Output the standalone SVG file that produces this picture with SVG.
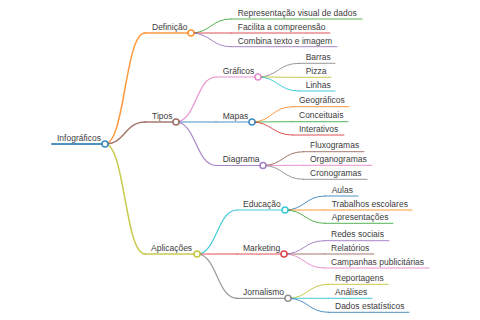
<svg xmlns="http://www.w3.org/2000/svg" width="480" height="320" viewBox="0 0 480 320">
<style>
text{font-family:"Liberation Sans",Arial,sans-serif;font-size:8.5px;fill:#3c3c3c}
.l{fill:none;stroke-linecap:round;stroke-opacity:0.8}
.d0{stroke-width:2}
.d1{stroke-width:1.5}
.d2{stroke-width:1.2}
.d3{stroke-width:1}
circle{fill:#fff;stroke-width:1.5;stroke-opacity:0.85}
</style>
<rect width="480" height="320" fill="#fff"/>
<g id="connectors" class="l">
<path class="d1" stroke="#ff7f0e" d="M105 144C125 144 125 33 145 33"/>
<path class="d1" stroke="#8c564b" d="M105 144C125 144 125 122 145 122"/>
<path class="d1" stroke="#bcbd22" d="M105 144C125 144 125 254 145 254"/>
<path class="d3" stroke="#2ca02c" d="M191 33C211 33 211 19 231 19"/>
<path class="d3" stroke="#d62728" d="M191 33C211 33 211 33 231 33"/>
<path class="d3" stroke="#9467bd" d="M191 33C211 33 211 46.7 231 46.7"/>
<path class="d2" stroke="#e377c2" d="M176 122C196 122 196 77 216 77"/>
<path class="d2" stroke="#1f77b4" d="M176 122C196 122 196 122 216 122"/>
<path class="d2" stroke="#9467bd" d="M176 122C196 122 196 165.5 216 165.5"/>
<path class="d3" stroke="#7f7f7f" d="M258 77C278 77 278 63.3 299 63.3"/>
<path class="d3" stroke="#bcbd22" d="M258 77C278 77 278 77.3 299 77.3"/>
<path class="d3" stroke="#17becf" d="M258 77C278 77 278 91 299 91"/>
<path class="d3" stroke="#ff7f0e" d="M252 122C272 122 272 106.7 292.5 106.7"/>
<path class="d3" stroke="#2ca02c" d="M252 122C272 122 272 121.7 292.5 121.7"/>
<path class="d3" stroke="#d62728" d="M252 122C272 122 272 135 292.5 135"/>
<path class="d3" stroke="#8c564b" d="M263 165.5C283 165.5 283 151.7 303.5 151.7"/>
<path class="d3" stroke="#e377c2" d="M263 165.5C283 165.5 283 165.3 303.5 165.3"/>
<path class="d3" stroke="#7f7f7f" d="M263 165.5C283 165.5 283 179.3 303.5 179.3"/>
<path class="d2" stroke="#17becf" d="M197 254C217 254 217 210 237 210"/>
<path class="d2" stroke="#d62728" d="M197 254C217 254 217 254 237 254"/>
<path class="d2" stroke="#7f7f7f" d="M197 254C217 254 217 298.3 237 298.3"/>
<path class="d3" stroke="#1f77b4" d="M285 210C305 210 305 196 325 196"/>
<path class="d3" stroke="#ff7f0e" d="M285 210C305 210 305 210 325 210"/>
<path class="d3" stroke="#2ca02c" d="M285 210C305 210 305 223.3 325 223.3"/>
<path class="d3" stroke="#9467bd" d="M284 254C304 254 304 240.7 324.5 240.7"/>
<path class="d3" stroke="#8c564b" d="M284 254C304 254 304 254 324.5 254"/>
<path class="d3" stroke="#e377c2" d="M284 254C304 254 304 268 324.5 268"/>
<path class="d3" stroke="#bcbd22" d="M288 298.3C308 298.3 308 284.3 328.5 284.3"/>
<path class="d3" stroke="#17becf" d="M288 298.3C308 298.3 308 298.3 328.5 298.3"/>
<path class="d3" stroke="#1f77b4" d="M288 298.3C308 298.3 308 312.3 328.5 312.3"/>
</g>
<g id="n-infograficos"><path class="l d0" stroke="#1f77b4" d="M52 144H105"/><text x="57" y="140.5">Infográficos</text><circle cx="105" cy="144" r="3" stroke="#1f77b4"/></g>
<g id="n-definicao"><path class="l d1" stroke="#ff7f0e" d="M145 33H191"/><text x="152" y="29.5">Definição</text><circle cx="191" cy="33" r="3" stroke="#ff7f0e"/></g>
<g id="n-rep"><path class="l d3" stroke="#2ca02c" d="M231 19H362"/><text x="237.7" y="15.8">Representação visual de dados</text></g>
<g id="n-fac"><path class="l d3" stroke="#d62728" d="M231 33H330"/><text x="237.7" y="29.8">Facilita a compreensão</text></g>
<g id="n-comb"><path class="l d3" stroke="#9467bd" d="M231 46.7H337"/><text x="237.7" y="43.5">Combina texto e imagem</text></g>
<g id="n-tipos"><path class="l d1" stroke="#8c564b" d="M145 122H176"/><text x="152" y="118.5">Tipos</text><circle cx="176" cy="122" r="3" stroke="#8c564b"/></g>
<g id="n-graficos"><path class="l d2" stroke="#e377c2" d="M216 77H258"/><text x="222.7" y="73.5">Gráficos</text><circle cx="258" cy="77" r="3" stroke="#e377c2"/></g>
<g id="n-barras"><path class="l d3" stroke="#7f7f7f" d="M299 63.3H335"/><text x="305.7" y="60">Barras</text></g>
<g id="n-pizza"><path class="l d3" stroke="#bcbd22" d="M299 77.3H331"/><text x="305.7" y="74">Pizza</text></g>
<g id="n-linhas"><path class="l d3" stroke="#17becf" d="M299 91H335"/><text x="305.7" y="87.7">Linhas</text></g>
<g id="n-mapas"><path class="l d2" stroke="#1f77b4" d="M216 122H252"/><text x="222.7" y="118.5">Mapas</text><circle cx="252" cy="122" r="3" stroke="#1f77b4"/></g>
<g id="n-geo"><path class="l d3" stroke="#ff7f0e" d="M292.5 106.7H349"/><text x="299" y="103.4">Geográficos</text></g>
<g id="n-conc"><path class="l d3" stroke="#2ca02c" d="M292.5 121.7H348"/><text x="299" y="118.4">Conceituais</text></g>
<g id="n-inter"><path class="l d3" stroke="#d62728" d="M292.5 135H344"/><text x="299" y="131.7">Interativos</text></g>
<g id="n-diagrama"><path class="l d2" stroke="#9467bd" d="M216 165.5H263"/><text x="222.7" y="162">Diagrama</text><circle cx="263" cy="165.5" r="3" stroke="#9467bd"/></g>
<g id="n-flux"><path class="l d3" stroke="#8c564b" d="M303.5 151.7H364"/><text x="310" y="148.4">Fluxogramas</text></g>
<g id="n-org"><path class="l d3" stroke="#e377c2" d="M303.5 165.3H372"/><text x="310" y="162">Organogramas</text></g>
<g id="n-cron"><path class="l d3" stroke="#7f7f7f" d="M303.5 179.3H367"/><text x="310" y="176">Cronogramas</text></g>
<g id="n-aplicacoes"><path class="l d1" stroke="#bcbd22" d="M145 254H197"/><text x="151" y="250.5">Aplicações</text><circle cx="197" cy="254" r="3" stroke="#bcbd22"/></g>
<g id="n-educacao"><path class="l d2" stroke="#17becf" d="M237 210H285"/><text x="243" y="206.5">Educação</text><circle cx="285" cy="210" r="3" stroke="#17becf"/></g>
<g id="n-aulas"><path class="l d3" stroke="#1f77b4" d="M325 196H358"/><text x="331.7" y="192.7">Aulas</text></g>
<g id="n-trab"><path class="l d3" stroke="#ff7f0e" d="M325 210H412"/><text x="331.7" y="206.7">Trabalhos escolares</text></g>
<g id="n-apres"><path class="l d3" stroke="#2ca02c" d="M325 223.3H393"/><text x="331.7" y="220">Apresentações</text></g>
<g id="n-marketing"><path class="l d2" stroke="#d62728" d="M237 254H284"/><text x="243" y="250.5">Marketing</text><circle cx="284" cy="254" r="3" stroke="#d62728"/></g>
<g id="n-redes"><path class="l d3" stroke="#9467bd" d="M324.5 240.7H389"/><text x="331" y="237.4">Redes sociais</text></g>
<g id="n-relat"><path class="l d3" stroke="#8c564b" d="M324.5 254H374"/><text x="331" y="250.7">Relatórios</text></g>
<g id="n-camp"><path class="l d3" stroke="#e377c2" d="M324.5 268H429"/><text x="331" y="264.7">Campanhas publicitárias</text></g>
<g id="n-jornalismo"><path class="l d2" stroke="#7f7f7f" d="M237 298.3H288"/><text x="243" y="294.8">Jornalismo</text><circle cx="288" cy="298.3" r="3" stroke="#7f7f7f"/></g>
<g id="n-report"><path class="l d3" stroke="#bcbd22" d="M328.5 284.3H388"/><text x="335" y="281">Reportagens</text></g>
<g id="n-anal"><path class="l d3" stroke="#17becf" d="M328.5 298.3H372"/><text x="335" y="295">Análises</text></g>
<g id="n-dados"><path class="l d3" stroke="#1f77b4" d="M328.5 312.3H409"/><text x="335" y="309">Dados estatísticos</text></g>
</svg>
